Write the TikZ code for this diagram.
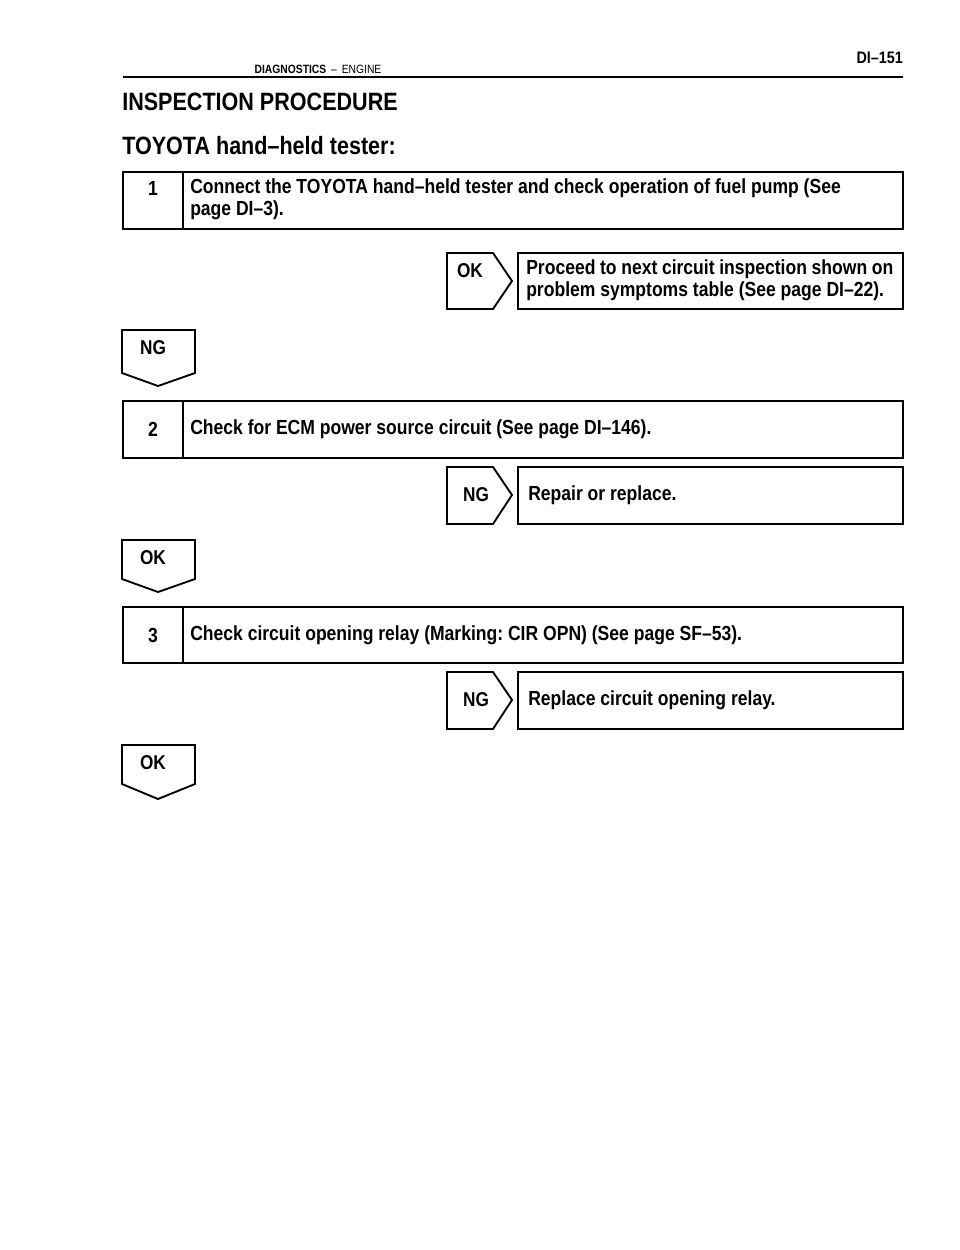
\documentclass[tikz,border=0pt]{standalone}
\usepackage{fontspec}
\setmainfont{Liberation Sans}[FakeStretch=0.86]
\frenchspacing
\begin{document}
\begin{tikzpicture}[x=0.75pt,y=-0.75pt,line join=miter,
  frame/.style={draw,line width=1.4pt},
  steptxt/.style={font=\bfseries\fontsize{15.3}{16.5}\selectfont,anchor=west,align=left,inner sep=0pt},
  numtxt/.style={font=\bfseries\fontsize{15.3}{16.5}\selectfont,inner sep=0pt},
  tagtxt/.style={font=\bfseries\fontsize{15}{16}\selectfont,inner sep=0pt}]
\useasboundingbox (0,0) rectangle (960,1250);
% header
\node[anchor=east,font=\bfseries\fontsize{12.5}{14}\selectfont,inner sep=0pt] (pg) at (903,58) {DI--151};
\node[anchor=base,font=\fontsize{9}{10}\selectfont,inner sep=0pt] (hd) at (318,73) {\textbf{DIAGNOSTICS} \,--\, ENGINE};
\draw[line width=1.5pt] (123,77) -- (903,77);
\node[anchor=west,font=\bfseries\fontsize{18.8}{20}\selectfont,inner sep=0pt] (t1) at (122,102) {INSPECTION PROCEDURE};
\node[anchor=west,font=\bfseries\fontsize{18.8}{20}\selectfont,inner sep=0pt] (t2) at (122,146) {TOYOTA hand--held tester:};
% step 1
\draw[frame] (123,172) rectangle (903,229);
\draw[frame] (183,172) -- (183,229);
\node[numtxt] (n1) at (153,188) {1};
\node[steptxt] (s1) at (190,199) {Connect the TOYOTA hand--held tester and check operation of fuel pump (See\\page DI--3).};
% OK right
\draw[frame] (447,253) -- (493,253) -- (512,281) -- (493,309) -- (447,309) -- cycle;
\node[tagtxt] (ok1) at (470,271) {OK};
\draw[frame] (518,253) rectangle (903,309);
\node[steptxt,align=justify,text width=367*0.75pt] (r1) at (526,280) {Proceed to next circuit inspection shown on problem symptoms table (See page DI--22).};
% NG down
\draw[frame] (122,330) -- (195,330) -- (195,373) -- (158,386) -- (122,373) -- cycle;
\node[tagtxt] (ng1) at (153,348) {NG};
% step 2
\draw[frame] (123,401) rectangle (903,458);
\draw[frame] (183,401) -- (183,458);
\node[numtxt] (n2) at (153,429) {2};
\node[steptxt] (s2) at (190,429) {Check for ECM power source circuit (See page DI--146).};
% NG right
\draw[frame] (447,467) -- (493,467) -- (512,495) -- (493,524) -- (447,524) -- cycle;
\node[tagtxt] (ng2) at (476,495) {NG};
\draw[frame] (518,467) rectangle (903,524);
\node[steptxt] (r2) at (528,495) {Repair or replace.};
% OK down
\draw[frame] (122,540) -- (195,540) -- (195,579) -- (158,592) -- (122,579) -- cycle;
\node[tagtxt] (ok2) at (153,558) {OK};
% step 3
\draw[frame] (123,607) rectangle (903,663);
\draw[frame] (183,607) -- (183,663);
\node[numtxt] (n3) at (153,635) {3};
\node[steptxt] (s3) at (190,635) {Check circuit opening relay (Marking: CIR OPN) (See page SF--53).};
% NG right
\draw[frame] (447,672) -- (493,672) -- (512,700) -- (493,729) -- (447,729) -- cycle;
\node[tagtxt] (ng3) at (476,700) {NG};
\draw[frame] (518,672) rectangle (903,729);
\node[steptxt] (r3) at (528,700) {Replace circuit opening relay.};
% OK down
\draw[frame] (122,745) -- (195,745) -- (195,784) -- (158,799) -- (122,784) -- cycle;
\node[tagtxt] (ok3) at (153,763) {OK};
\end{tikzpicture}
\end{document}
